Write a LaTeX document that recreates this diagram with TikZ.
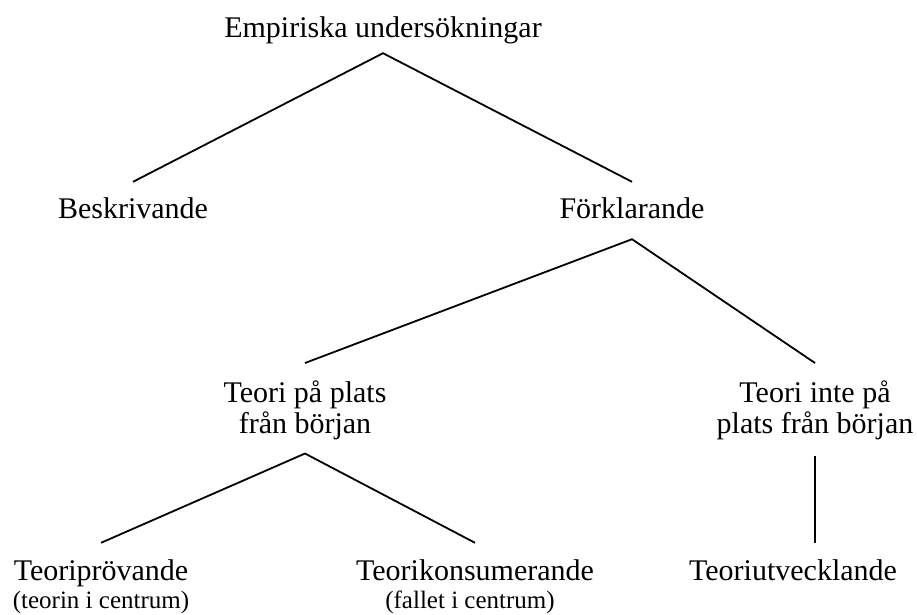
\documentclass[tikz,border=0pt]{standalone}
\usepackage{fontspec}
\setmainfont{Liberation Serif}
\usetikzlibrary{positioning}

\begin{document}
\begin{tikzpicture}[x=1pt,y=1pt,
    lbl/.style={inner sep=0pt,font=\fontsize{30}{31}\selectfont,text height=21pt,text depth=7pt,anchor=base},
    lbltwo/.style={inner sep=0pt,font=\fontsize{30}{31}\selectfont,align=center,anchor=north},
    note/.style={inner sep=0pt,font=\fontsize{25}{28}\selectfont,anchor=base},
    branch/.style={line width=1.8pt}]
      \useasboundingbox (0,0) rectangle (917,-614);
      % levels of the tree
      \node[lbl] (emp) at (383,-37) {Empiriska undersökningar};
      \node[lbl] (besk) at (133,-218) {Beskrivande};
      \node[lbl] (fork) at (632,-218) {Förklarande};
      \node[lbltwo] (pa) at (305,-381) {Teori på plats\\från början};
      \node[lbltwo] (inte) at (815,-381) {Teori inte på\\plats från början};
      \node[lbl] (prov) at (101,-580) {Teoriprövande};
      \node[lbl] (kons) at (475,-580) {Teorikonsumerande};
      \node[lbl] (utv) at (793,-580) {Teoriutvecklande};
      \node[note] (provnote) at ([yshift=-28pt]prov.base) {(teorin i centrum)};
      \node[note] (konsnote) at ([xshift=-5pt,yshift=-28pt]kons.base) {(fallet i centrum)};
      % branches
      \draw[branch] ([yshift=15pt]besk.north) -- ([yshift=-9pt]emp.south)
      -- ([yshift=15pt]fork.north);
      \draw[branch] ([yshift=18pt]pa.north) -- ([yshift=-14pt]fork.south)
      -- ([yshift=18pt]inte.north);
      \draw[branch] ([yshift=16pt]prov.north) -- ([yshift=-13pt]pa.south)
      -- ([yshift=16pt]kons.north);
      \draw[branch] ([yshift=-15pt]inte.south) -- ([yshift=16pt]inte.south |- utv.north);
    \end{tikzpicture}
\end{document}
